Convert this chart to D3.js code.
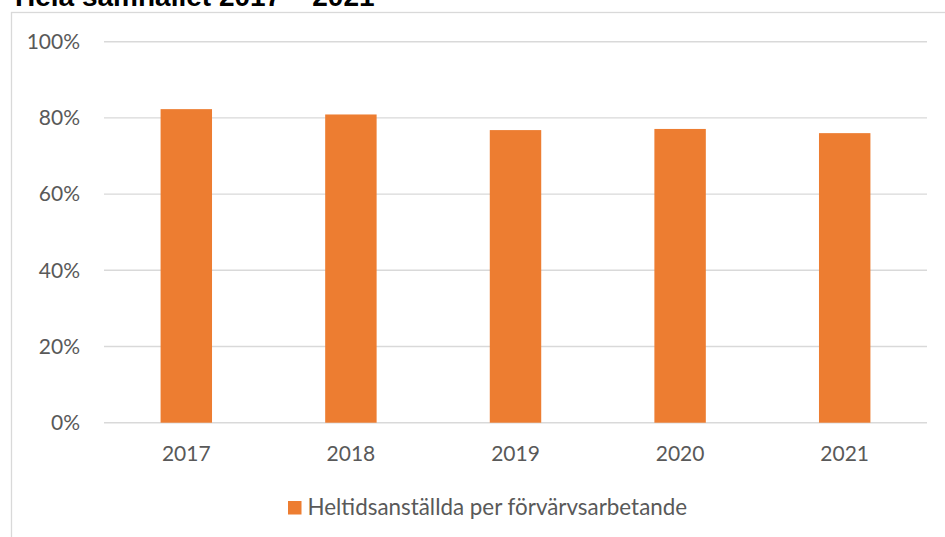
<!DOCTYPE html>
<html>
<head>
<meta charset="utf-8">
<script src="https://cdn.jsdelivr.net/npm/d3@7"></script>
<style>
  body { margin: 0; background: #fff; }
  svg { display: block; }
</style>
</head>
<body>
<script>
var w = 945
var h = 537

var years = [ "2017", "2018", "2019", "2020", "2021" ];
var values = [ 0.823, 0.809, 0.768, 0.771, 0.760 ];
var ticks = [ 0, 0.2, 0.4, 0.6, 0.8, 1.0 ];
var seriesName = "Heltidsanställda per förvärvsarbetande";
var title = "Hela samhället 2017 – 2021";

var font = "Lato, 'Open Sans', sans-serif";

var svg = d3.select("body").append("svg")
    .attr("width", w)
    .attr("height", h);

// title, clipped at the top of the picture (as in the original)
svg.append("text")
    .attr("x", 15)
    .attr("y", 6)
    .style("font-family", "'Liberation Sans', Arial, sans-serif")
    .style("font-weight", "bold")
    .style("font-size", "28px")
    .style("fill", "#000")
    .text(title);

// chart frame
svg.append("rect")
    .attr("x", 11.5)
    .attr("y", 12.5)
    .attr("width", w + 20)
    .attr("height", h + 20)
    .attr("fill", "none")
    .attr("stroke", "#d9d9d9")
    .attr("stroke-width", 1.3);

var x = d3.scaleBand()
    .domain(years)
    .range([104, 927])
    .paddingInner(0.6875)
    .paddingOuter(0.34375);

var y = d3.scaleLinear()
    .domain([0, 1])
    .range([422.7, 41.7]);

// grid lines
svg.selectAll("line.grid").data(ticks).enter()
  .append("line")
    .attr("class", "grid")
    .attr("x1", 104)
    .attr("x2", 927)
    .attr("y1", function(d) { return y(d); })
    .attr("y2", function(d) { return y(d); })
    .attr("stroke", "#d9d9d9")
    .attr("stroke-width", 1.4);

// y tick labels
svg.selectAll("text.ytick").data(ticks).enter()
  .append("text")
    .attr("class", "ytick")
    .attr("x", 80)
    .attr("y", function(d) { return y(d); })
    .attr("dy", ".35em")
    .attr("text-anchor", "end")
    .style("font-family", font)
    .style("font-size", "21px")
    .style("fill", "#595959")
    .text(function(d) { return d3.format(".0%")(d); });

// bars
svg.selectAll("rect.bar").data(values).enter()
  .append("rect")
    .attr("class", "bar")
    .attr("x", function(d, i) { return x(years[i]); })
    .attr("width", x.bandwidth())
    .attr("y", function(d) { return y(d); })
    .attr("height", function(d) { return y(0) - y(d); })
    .attr("fill", "#ed7d31");

// x tick labels
svg.selectAll("text.xtick").data(years).enter()
  .append("text")
    .attr("class", "xtick")
    .attr("x", function(d) { return x(d) + x.bandwidth() / 2; })
    .attr("y", 461)
    .attr("text-anchor", "middle")
    .style("font-family", font)
    .style("font-size", "21px")
    .style("fill", "#595959")
    .text(function(d) { return d; });

// legend
svg.append("rect")
    .attr("x", 288)
    .attr("y", 501)
    .attr("width", 13.5)
    .attr("height", 13.5)
    .attr("fill", "#ed7d31");

svg.append("text")
    .attr("x", 307.5)
    .attr("y", 514.5)
    .style("font-family", font)
    .style("font-size", "22.4px")
    .style("fill", "#595959")
    .text(seriesName);
</script>
</body>
</html>
